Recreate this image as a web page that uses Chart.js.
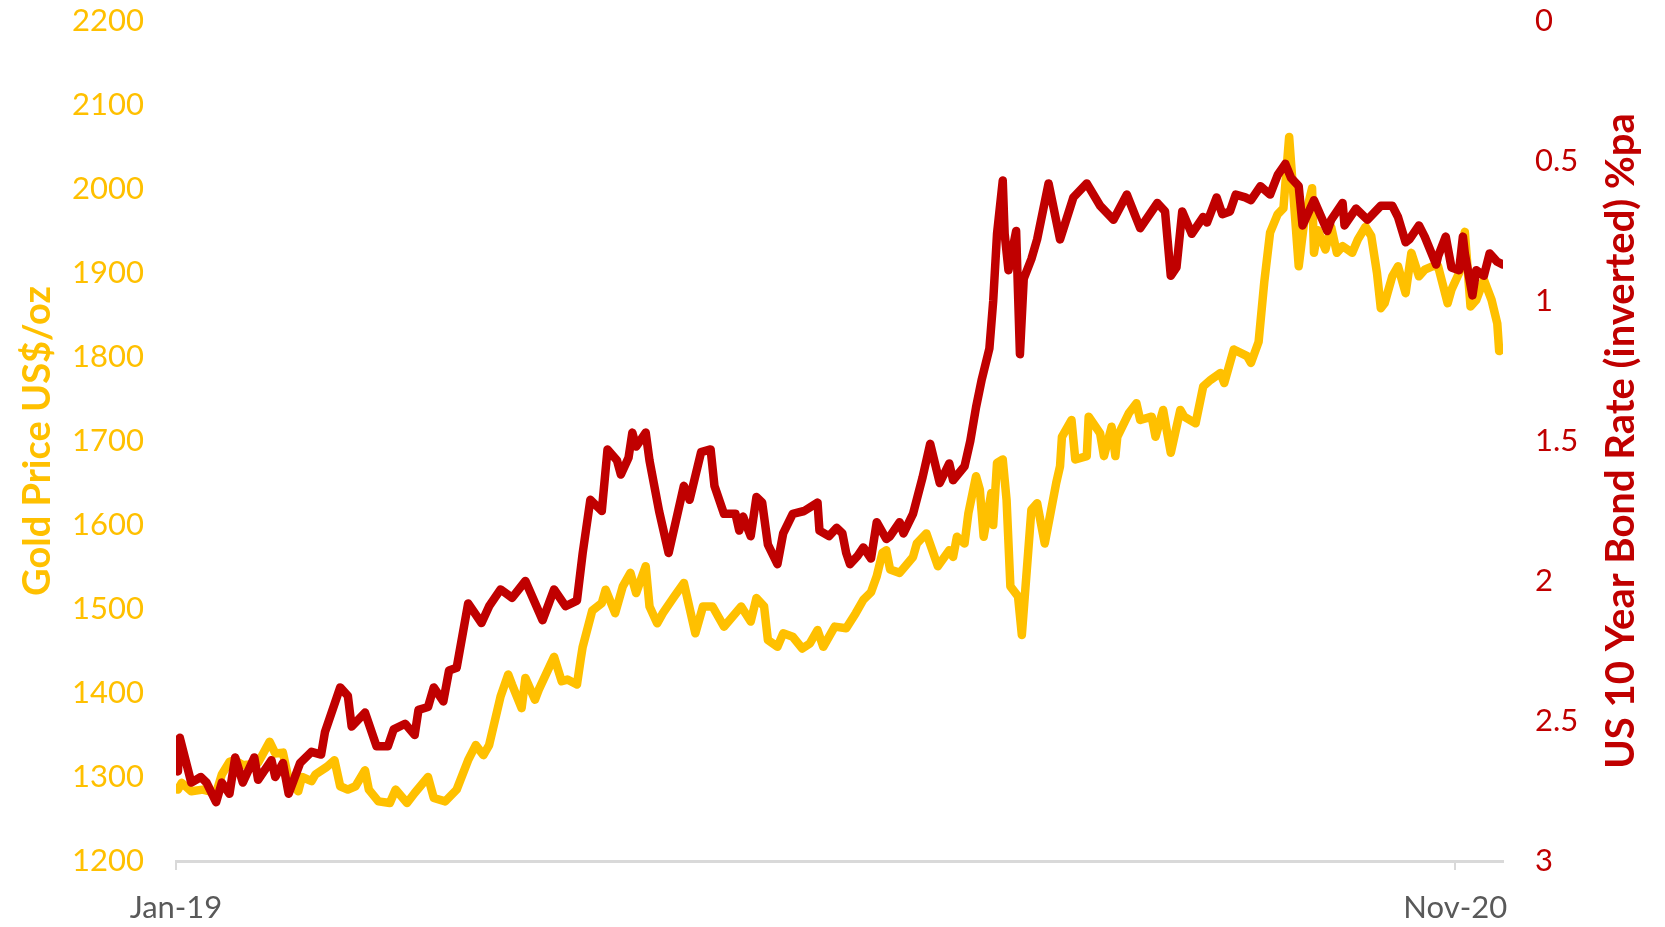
<!DOCTYPE html>
<html>
<head>
<meta charset="utf-8">
<script src="https://cdn.jsdelivr.net/npm/chart.js@4.4.1/dist/chart.umd.min.js"></script>
<style>
	html, body { margin: 0; padding: 0; background: #fff; }
	#chart-wrap { width: 1665px; height: 927px; position: relative; }
</style>
</head>
<body>
<div id="chart-wrap"><canvas id="chart-gold-bond"></canvas></div>
<script>
// Gold price, US$/oz
const GOLD_DATES = [
	"2019-01-02", "2019-01-04", "2019-01-09", "2019-01-15", "2019-01-22", "2019-01-25", "2019-01-29", "2019-02-01",
	"2019-02-05", "2019-02-08", "2019-02-13", "2019-02-19", "2019-02-22", "2019-02-26", "2019-03-01", "2019-03-06",
	"2019-03-08", "2019-03-13", "2019-03-15", "2019-03-21", "2019-03-25", "2019-03-28", "2019-04-01", "2019-04-05",
	"2019-04-10", "2019-04-12", "2019-04-17", "2019-04-23", "2019-04-26", "2019-05-02", "2019-05-06", "2019-05-13",
	"2019-05-16", "2019-05-22", "2019-05-28", "2019-06-03", "2019-06-07", "2019-06-11", "2019-06-14", "2019-06-20",
	"2019-06-24", "2019-06-26", "2019-07-01", "2019-07-03", "2019-07-08", "2019-07-10", "2019-07-18", "2019-07-22",
	"2019-07-25", "2019-07-30", "2019-08-01", "2019-08-02", "2019-08-07", "2019-08-12", "2019-08-14", "2019-08-19",
	"2019-08-23", "2019-08-27", "2019-08-30", "2019-09-04", "2019-09-06", "2019-09-10", "2019-09-13", "2019-09-19",
	"2019-09-24", "2019-09-30", "2019-10-04", "2019-10-09", "2019-10-15", "2019-10-18", "2019-10-24", "2019-10-29",
	"2019-11-01", "2019-11-05", "2019-11-07", "2019-11-12", "2019-11-15", "2019-11-20", "2019-11-25", "2019-11-29",
	"2019-12-03", "2019-12-06", "2019-12-12", "2019-12-18", "2019-12-23", "2019-12-27", "2019-12-31",
	"2020-01-03", "2020-01-06", "2020-01-08", "2020-01-10", "2020-01-15", "2020-01-22", "2020-01-24", "2020-01-29",
	"2020-02-04", "2020-02-10", "2020-02-12", "2020-02-14", "2020-02-18", "2020-02-20", "2020-02-24", "2020-02-26",
	"2020-02-28", "2020-03-03", "2020-03-04", "2020-03-06", "2020-03-09", "2020-03-11", "2020-03-13", "2020-03-17",
	"2020-03-19", "2020-03-24", "2020-03-27", "2020-03-31", "2020-04-06", "2020-04-08", "2020-04-09", "2020-04-14",
	"2020-04-16", "2020-04-22", "2020-04-23", "2020-04-29", "2020-05-01", "2020-05-05", "2020-05-07", "2020-05-08",
	"2020-05-14", "2020-05-18", "2020-05-20", "2020-05-26", "2020-05-28", "2020-06-01", "2020-06-05", "2020-06-10",
	"2020-06-12", "2020-06-18", "2020-06-22", "2020-06-26", "2020-07-01", "2020-07-03", "2020-07-08", "2020-07-15",
	"2020-07-17", "2020-07-21", "2020-07-24", "2020-07-27", "2020-07-31", "2020-08-03", "2020-08-06", "2020-08-07",
	"2020-08-11", "2020-08-14", "2020-08-18", "2020-08-19", "2020-08-21", "2020-08-25", "2020-08-28", "2020-08-31",
	"2020-09-03", "2020-09-08", "2020-09-11", "2020-09-15", "2020-09-18", "2020-09-21", "2020-09-23", "2020-09-25",
	"2020-09-29", "2020-10-02", "2020-10-06", "2020-10-09", "2020-10-13", "2020-10-16", "2020-10-20", "2020-10-23",
	"2020-10-28", "2020-10-30", "2020-11-03", "2020-11-06", "2020-11-09", "2020-11-12", "2020-11-16", "2020-11-20",
	"2020-11-23", "2020-11-24", "2020-11-26",
];
const GOLD_PRICES = [
	1285, 1293, 1283, 1285, 1281, 1303, 1318, 1320,
	1314, 1315, 1317, 1342, 1328, 1329, 1297, 1283,
	1300, 1295, 1303, 1312, 1320, 1289, 1285, 1289,
	1308, 1285, 1271, 1269, 1285, 1269, 1281, 1300,
	1275, 1271, 1285, 1320, 1338, 1326, 1338, 1396,
	1422, 1410, 1382, 1418, 1392, 1404, 1443, 1414,
	1416, 1410, 1441, 1455, 1498, 1507, 1523, 1495,
	1527, 1543, 1519, 1551, 1503, 1483, 1495, 1515,
	1531, 1471, 1503, 1503, 1479, 1487, 1503, 1485,
	1513, 1503, 1463, 1455, 1471, 1467, 1453, 1459,
	1475, 1455, 1479, 1477, 1495, 1511, 1520,
	1539, 1567, 1570, 1547, 1543, 1562, 1578, 1590,
	1551, 1570, 1562, 1586, 1578, 1614, 1658, 1642,
	1586, 1638, 1600, 1674, 1678, 1630, 1527, 1515,
	1469, 1618, 1626, 1578, 1650, 1670, 1705, 1725,
	1678, 1682, 1729, 1709, 1682, 1717, 1682, 1705,
	1733, 1745, 1725, 1729, 1705, 1737, 1686, 1737,
	1729, 1721, 1765, 1773, 1781, 1769, 1809, 1801,
	1793, 1818, 1890, 1948, 1970, 1977, 2062, 2031,
	1908, 1963, 2001, 1924, 1951, 1928, 1955, 1924,
	1932, 1924, 1940, 1955, 1944, 1900, 1858, 1864,
	1896, 1908, 1876, 1924, 1896, 1904, 1908, 1908,
	1864, 1880, 1900, 1949, 1860, 1868, 1892, 1868,
	1840, 1807, 1810,
];

// US 10 year bond rate, %pa
const BOND_DATES = [
	"2019-01-02", "2019-01-03", "2019-01-09", "2019-01-14", "2019-01-17", "2019-01-22", "2019-01-25", "2019-01-29",
	"2019-02-01", "2019-02-05", "2019-02-11", "2019-02-13", "2019-02-20", "2019-02-22", "2019-02-26", "2019-03-01",
	"2019-03-07", "2019-03-13", "2019-03-18", "2019-03-20", "2019-03-28", "2019-04-01", "2019-04-03", "2019-04-10",
	"2019-04-16", "2019-04-22", "2019-04-25", "2019-05-01", "2019-05-06", "2019-05-08", "2019-05-13", "2019-05-16",
	"2019-05-21", "2019-05-24", "2019-05-28", "2019-06-03", "2019-06-10", "2019-06-14", "2019-06-20", "2019-06-26",
	"2019-07-03", "2019-07-12", "2019-07-18", "2019-07-24", "2019-07-30", "2019-08-02", "2019-08-06", "2019-08-12",
	"2019-08-15", "2019-08-20", "2019-08-22", "2019-08-26", "2019-08-28", "2019-08-30", "2019-09-04", "2019-09-06",
	"2019-09-11", "2019-09-16", "2019-09-20", "2019-09-24", "2019-09-27", "2019-10-03", "2019-10-08", "2019-10-10",
	"2019-10-15", "2019-10-21", "2019-10-23", "2019-10-25", "2019-10-29", "2019-11-01", "2019-11-04", "2019-11-07",
	"2019-11-12", "2019-11-15", "2019-11-20", "2019-11-26", "2019-12-03", "2019-12-04", "2019-12-09", "2019-12-13",
	"2019-12-16", "2019-12-18", "2019-12-20", "2019-12-24", "2019-12-27", "2019-12-31",
	"2020-01-03", "2020-01-08", "2020-01-10", "2020-01-15", "2020-01-17", "2020-01-22", "2020-01-27", "2020-01-31",
	"2020-02-05", "2020-02-10", "2020-02-12", "2020-02-18", "2020-02-21", "2020-02-24", "2020-02-27", "2020-03-02",
	"2020-03-04", "2020-03-06", "2020-03-09", "2020-03-10", "2020-03-12", "2020-03-16", "2020-03-18", "2020-03-20",
	"2020-03-24", "2020-03-27", "2020-04-02", "2020-04-08", "2020-04-15", "2020-04-22", "2020-04-29", "2020-05-06",
	"2020-05-13", "2020-05-20", "2020-05-29", "2020-06-02", "2020-06-05", "2020-06-08", "2020-06-11", "2020-06-16",
	"2020-06-22", "2020-06-24", "2020-06-29", "2020-07-02", "2020-07-06", "2020-07-09", "2020-07-14", "2020-07-17",
	"2020-07-22", "2020-07-27", "2020-07-31", "2020-08-04", "2020-08-07", "2020-08-11", "2020-08-13", "2020-08-19",
	"2020-08-26", "2020-08-28", "2020-09-03", "2020-09-04", "2020-09-10", "2020-09-16", "2020-09-23", "2020-09-29",
	"2020-10-02", "2020-10-06", "2020-10-08", "2020-10-13", "2020-10-16", "2020-10-22", "2020-10-23", "2020-10-27",
	"2020-10-30", "2020-11-03", "2020-11-05", "2020-11-06", "2020-11-10", "2020-11-12", "2020-11-16", "2020-11-19",
	"2020-11-23", "2020-11-26",
];
const BOND_RATES = [
	2.68, 2.56, 2.72, 2.70, 2.72, 2.79, 2.72, 2.76,
	2.63, 2.72, 2.63, 2.71, 2.64, 2.70, 2.65, 2.76,
	2.65, 2.61, 2.62, 2.54, 2.38, 2.41, 2.52, 2.47,
	2.59, 2.59, 2.53, 2.51, 2.55, 2.46, 2.45, 2.38,
	2.43, 2.32, 2.31, 2.08, 2.15, 2.09, 2.03, 2.06,
	2.00, 2.14, 2.03, 2.09, 2.07, 1.90, 1.71, 1.75,
	1.53, 1.57, 1.62, 1.56, 1.47, 1.52, 1.47, 1.57,
	1.75, 1.90, 1.78, 1.66, 1.71, 1.54, 1.53, 1.66,
	1.76, 1.76, 1.82, 1.77, 1.84, 1.70, 1.72, 1.87,
	1.94, 1.83, 1.76, 1.75, 1.72, 1.82, 1.84, 1.81,
	1.83, 1.90, 1.94, 1.91, 1.88, 1.92,
	1.79, 1.85, 1.84, 1.79, 1.83, 1.76, 1.63, 1.51,
	1.65, 1.58, 1.64, 1.59, 1.50, 1.38, 1.28, 1.17,
	1.00, 0.76, 0.57, 0.76, 0.89, 0.75, 1.19, 0.92,
	0.85, 0.78, 0.58, 0.78, 0.63, 0.58, 0.66, 0.71,
	0.62, 0.74, 0.65, 0.68, 0.91, 0.88, 0.68, 0.76,
	0.70, 0.72, 0.63, 0.69, 0.68, 0.62, 0.63, 0.64,
	0.59, 0.62, 0.55, 0.51, 0.56, 0.59, 0.73, 0.64,
	0.75, 0.71, 0.65, 0.73, 0.67, 0.71, 0.66, 0.66,
	0.70, 0.79, 0.78, 0.73, 0.77, 0.87, 0.84, 0.77,
	0.88, 0.89, 0.77, 0.83, 0.98, 0.89, 0.91, 0.83,
	0.86, 0.87,
];

// Axes
const AXIS_START = "2019-01-01";
const AXIS_END = "2020-11-26";
const X_TICK_DATES = ["2019-01-01", "2020-11-01"];
const X_TICK_LABELS = ["Jan-19", "Nov-20"];
const GOLD_TICKS = { min: 1200, max: 2200, step: 100 };
const BOND_TICKS = { min: 0, max: 3, step: 0.5 };
const GOLD_TITLE = "Gold Price US$/oz";
const BOND_TITLE = "US 10 Year Bond Rate (inverted) %pa";

const COLORS = {
	gold: "#FFC000",
	red: "#C00000",
	grey: "#595959",
	axis: "#D9D9D9",
};

const FONT_FAMILY = "Lato, 'Open Sans', sans-serif";

// day number since the axis start
const dayOf = (s) => (Date.parse(s) - Date.parse(AXIS_START)) / 86400000;

const toPoints = (dates, values) => dates.map((d, i) => ({ x: dayOf(d), y: values[i] }));

// right axis title reads bottom to top, as the left one does
const bondTitle = {
	id: "bondTitle",
	afterDraw(chart) {
		const { ctx, chartArea } = chart;
		const scale = chart.scales.y2;
		ctx.save();
		ctx.translate(scale.right - 44, (chartArea.top + chartArea.bottom) / 2);
		ctx.rotate(-Math.PI / 2);
		ctx.font = "bold 40px " + FONT_FAMILY;
		ctx.fillStyle = COLORS.red;
		ctx.textAlign = "center";
		ctx.textBaseline = "middle";
		ctx.fillText(BOND_TITLE, 0, 0);
		ctx.restore();
	},
};

// keep the tick padding from pushing the plot area down
const fixVerticalScale = (width) => (scale) => {
	scale.width = width;
	scale.paddingTop = 0;
	scale.paddingBottom = 0;
};

const tickFont = { family: FONT_FAMILY, size: 31 };

const lineStyle = (color) => ({
	borderColor: color,
	backgroundColor: color,
	borderWidth: 8.5,
	borderJoinStyle: "round",
	borderCapStyle: "round",
	pointRadius: 0,
	tension: 0,
});

const CHART_CONFIG = {
	type: "line",
	data: {
		datasets: [
			{
				label: GOLD_TITLE,
				data: toPoints(GOLD_DATES, GOLD_PRICES),
				yAxisID: "y",
				...lineStyle(COLORS.gold),
				order: 2,
			},
			{
				label: BOND_TITLE,
				data: toPoints(BOND_DATES, BOND_RATES),
				yAxisID: "y2",
				...lineStyle(COLORS.red),
				order: 1,
			},
		],
	},
	options: {
		responsive: true,
		maintainAspectRatio: false,
		animation: false,
		layout: {
			padding: { top: 21, left: 0, right: 0, bottom: 0 },
		},
		scales: {
			x: {
				type: "linear",
				min: 0,
				max: dayOf(AXIS_END),
				afterBuildTicks: (scale) => {
					scale.ticks = X_TICK_DATES.map((d) => ({ value: dayOf(d) }));
				},
				afterFit: (scale) => {
					scale.height = 66;
				},
				ticks: {
					autoSkip: false,
					maxRotation: 0,
					color: COLORS.grey,
					font: tickFont,
					padding: 19,
					callback: (value, index) => X_TICK_LABELS[index],
				},
				grid: {
					drawOnChartArea: false,
					drawTicks: true,
					tickLength: 9,
					color: COLORS.axis,
					lineWidth: 2,
				},
				border: {
					display: true,
					color: COLORS.axis,
					width: 3,
				},
			},
			y: {
				position: "left",
				min: GOLD_TICKS.min,
				max: GOLD_TICKS.max,
				afterFit: fixVerticalScale(176),
				ticks: {
					stepSize: GOLD_TICKS.step,
					color: COLORS.gold,
					font: tickFont,
					padding: 24,
					callback: (value) => String(value),
				},
				grid: { display: false },
				border: { display: false },
				title: {
					display: true,
					text: GOLD_TITLE,
					color: COLORS.gold,
					font: { family: FONT_FAMILY, size: 38, weight: "bold" },
					padding: { top: 15, bottom: 0 },
				},
			},
			y2: {
				position: "right",
				reverse: true,
				min: BOND_TICKS.min,
				max: BOND_TICKS.max,
				afterFit: fixVerticalScale(162),
				ticks: {
					stepSize: BOND_TICKS.step,
					color: COLORS.red,
					font: tickFont,
					padding: 24,
					callback: (value) => String(value),
				},
				grid: { display: false },
				border: { display: false },
			},
		},
		plugins: {
			legend: { display: false },
			tooltip: { enabled: false },
		},
	},
	plugins: [bondTitle],
};

const CHART_WRAPPER = document.getElementById("chart-gold-bond");
if (CHART_WRAPPER) {
	new Chart(CHART_WRAPPER, CHART_CONFIG);
}
</script>
</body>
</html>
